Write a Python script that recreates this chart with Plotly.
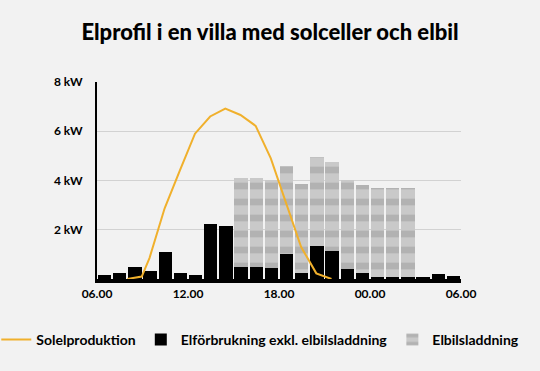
import plotly.graph_objects as go

# Hour slots (06.00 -> 06.00 next day), bar centres
hours = [h + 0.5 for h in range(6, 30)]
base_kw = [0.16, 0.23, 0.47, 0.33, 1.10, 0.23, 0.15, 2.22, 2.14, 0.50, 0.50, 0.43,
           1.00, 0.26, 1.34, 1.14, 0.42, 0.23, 0.10, 0.10, 0.10, 0.08, 0.19, 0.12]
charge_kw = [0, 0, 0, 0, 0, 0, 0, 0, 0, 3.6, 3.6, 3.6,
             3.6, 3.6, 3.6, 3.6, 3.6, 3.6, 3.6, 3.6, 3.6, 0, 0, 0]
solar_hours = [8.0, 8.95, 9.46, 10.46, 11.46, 12.46, 13.46, 14.46, 15.46, 16.46,
               17.46, 18.46, 19.46, 20.46, 21.46]
solar_kw = [0.0, 0.1, 0.85, 2.87, 4.4, 5.9, 6.6, 6.92, 6.66, 6.22,
            4.9, 3.06, 1.3, 0.23, 0.0]
x_tickvals = [6, 12, 18, 24, 30]
x_ticktext = ["06.00", "12.00", "18.00", "00.00", "06.00"]
y_tickvals = [2, 4, 6, 8]
y_ticktext = ["2 kW", "4 kW", "6 kW", "8 kW"]

FONT = "Lato"
BG = "#f2f2f2"
W, H = 540, 371

fig = go.Figure()
fig.add_trace(go.Scatter(
    x=solar_hours, y=solar_kw, mode="lines", name="Solelproduktion",
    line=dict(color="#f0b02c", width=2),
))
fig.add_trace(go.Bar(
    x=hours, y=base_kw, name="Elförbrukning exkl. elbilsladdning",
    marker=dict(color="#000000", line=dict(width=0)),
))
fig.add_trace(go.Bar(
    x=hours, y=charge_kw, name="Elbilsladdning",
    marker=dict(color="#c8c8c8", line=dict(width=0),
                pattern=dict(shape="-", size=16, solidity=0.42,
                             fgcolor="#b2b2b2", bgcolor="#c9c9c9",
                             fillmode="replace")),
))

fig.update_layout(
    width=W, height=H,
    paper_bgcolor=BG, plot_bgcolor=BG,
    barmode="stack", bargap=0.13,
    margin=dict(l=0, r=0, t=82, b=92, autoexpand=False),
    font=dict(family=FONT, color="#000000", size=12, weight="bold"),
    title=dict(text="Elprofil i en villa med solceller och elbil",
               x=0.5, xref="container", xanchor="center",
               y=1 - 32 / H, yref="container", yanchor="middle",
               font=dict(family=FONT, size=22, weight=900, color="#000000")),
    showlegend=True,
    legend=dict(orientation="h", xref="container", x=0.482, xanchor="center",
                yref="container", y=1 - 340 / H, yanchor="middle",
                font=dict(family=FONT, size=14, weight="bold"),
                bgcolor="rgba(0,0,0,0)", traceorder="normal",
                itemwidth=30, tracegroupgap=0),
    xaxis=dict(domain=[97 / W, 461 / W], range=[6, 30],
               tickvals=x_tickvals, ticktext=x_ticktext,
               showgrid=False, zeroline=False, showline=True, linecolor="#000000",
               linewidth=4, ticks="", tickfont=dict(size=12, family=FONT, weight="bold"),
               ticklabelstandoff=1, fixedrange=True),
    yaxis=dict(range=[0, 8], tickvals=y_tickvals, ticktext=y_ticktext,
               showgrid=True, gridcolor="#d2d2d2", gridwidth=1,
               zeroline=False, showline=True, linecolor="#000000", linewidth=2,
               ticks="", tickfont=dict(size=12, family=FONT, weight="bold"),
               ticklabelstandoff=10, fixedrange=True),
)

fig.write_html("out.html",
               config={"displayModeBar": False},
               post_script="document.body.style.margin='0';document.body.style.overflow='hidden';")
